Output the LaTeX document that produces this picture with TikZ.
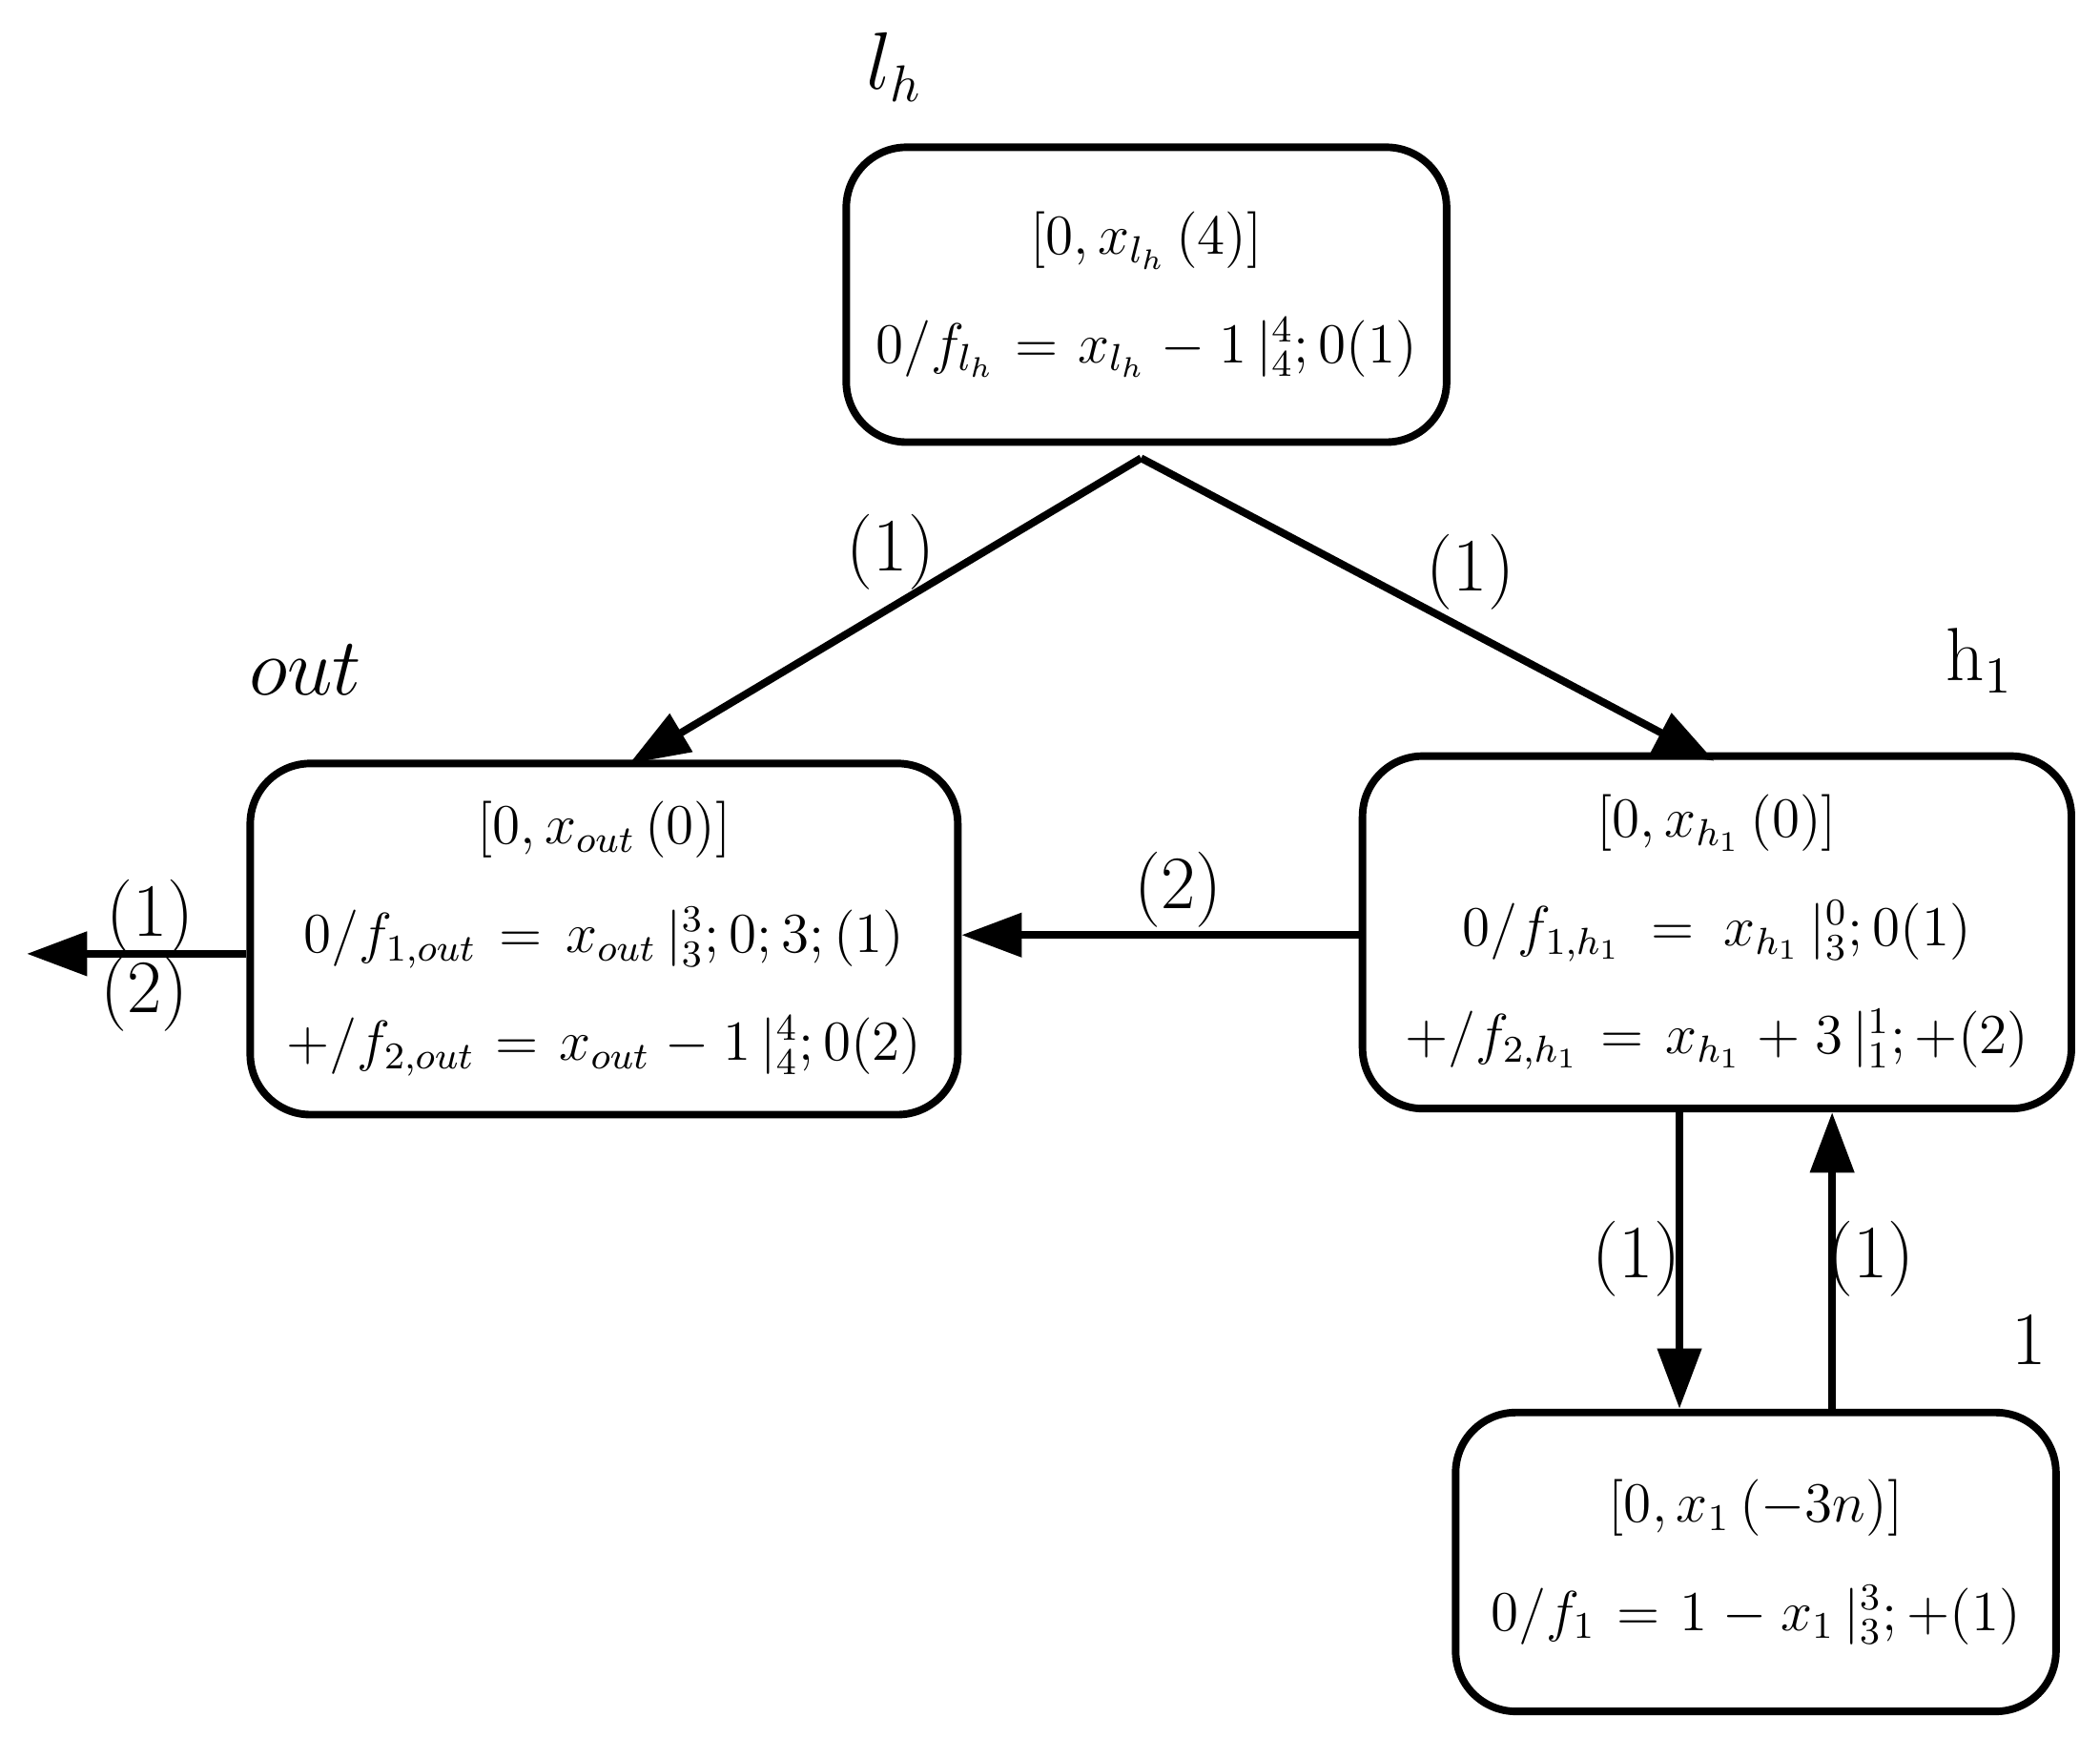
\documentclass[tikz,border=0pt]{standalone}
\usetikzlibrary{arrows.meta}
\begin{document}
\begin{tikzpicture}[x=0.01cm,y=-0.01cm,
  box/.style={draw,line width=1.6pt,rounded corners=0.45cm,text width=#1,align=center,inner sep=0pt,font=\fontsize{12}{23}\selectfont},
  arr/.style={line width=1.6pt,-{Triangle[length=0.45cm,width=0.32cm]}},
  lab/.style={font=\fontsize{16}{20}\selectfont}]
\useasboundingbox (0,0) rectangle (1568,1297);
\node[box=4.48cm,minimum height=2.2cm] (lh) at (856,220) {$\left[0,x_{l_h}\,(4)\right]$\\ $0/f_{l_h}=x_{l_h}-1\,|_4^4;0(1)$};
\node[box=5.28cm,minimum height=2.62cm] (out) at (451,701) {$\left[0,x_{out}\,(0)\right]$\\ $0/f_{1,out}=x_{out}\,|_3^3;0;3;(1)$\\ $+/f_{2,out}=x_{out}-1\,|_4^4;0(2)$};
\node[box=5.29cm,minimum height=2.63cm] (h1) at (1282,696) {$\left[0,x_{h_1}\,(0)\right]$\\ $0/f_{1,h_1}=x_{h_1}\,|_3^0;0(1)$\\ $+/f_{2,h_1}=x_{h_1}+3\,|_1^1;+(2)$};
\node[box=4.48cm,minimum height=2.23cm] (one) at (1311,1166) {$\left[0,x_1\,(-3n)\right]$\\ $0/f_1=1-x_1\,|_3^3;+(1)$};
\coordinate (apex) at (852,342);
\coordinate (oa) at (470,570);
\coordinate (ha) at (1280,568);
\coordinate (exit) at (20,712);
\draw[arr] (apex) -- (oa);
\draw[arr] (apex) -- (ha);
\draw[arr] (h1.west|-0,698) -- (out.east|-0,698);
\draw[arr] (out.west|-0,712) -- (exit);
\draw[arr] (1254,0|-h1.south) -- (1254,0|-one.north);
\draw[arr] (1368,0|-one.north) -- (1368,0|-h1.south);
\node[lab] (l1) at (665,412) {(1)};
\node[lab] (l2) at (1098,427) {(1)};
\node[lab] (l3) at (880,664) {(2)};
\node[lab] (l4) at (112,685) {(1)};
\node[lab] (l5) at (108,742) {(2)};
\node[lab] (l6) at (1222,940) {(1)};
\node[lab] (l7) at (1397,940) {(1)};
\node[lab] (t1) at (668,50) {$l_h$};
\node[lab] (t2) at (228,500) {$out$};
\node[lab] (t3) at (1478,493) {h$_1$};
\node[lab] (t4) at (1515,1000) {1};
\end{tikzpicture}
\end{document}
